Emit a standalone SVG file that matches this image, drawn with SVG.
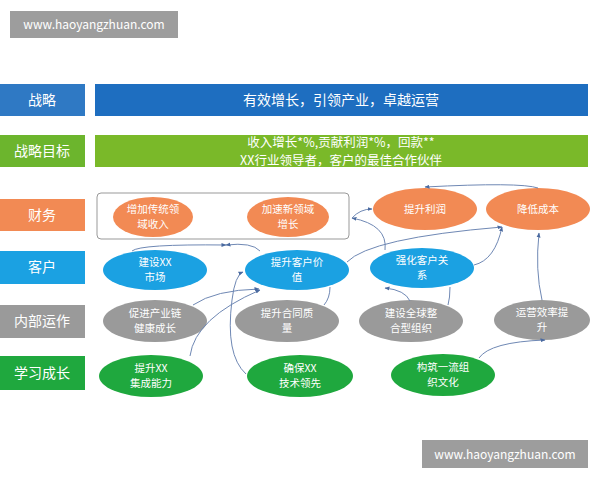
<svg xmlns="http://www.w3.org/2000/svg" width="600" height="480" viewBox="0 0 600 480">
<defs>
<marker id="a" viewBox="0 0 10 10" refX="9" refY="5" markerWidth="5" markerHeight="5" orient="auto"><path d="M0,1 L10,5 L0,9 z" fill="#4a6aa0"/></marker>
<style>
text{font-family:"Noto Sans CJK SC","Liberation Sans",sans-serif;fill:#fff;text-anchor:middle}
.lb{font-size:14px}
.lb2{font-size:12.5px}
.n{font-size:10.5px}
.c{fill:none;stroke:#6f88b4;stroke-width:1;marker-end:url(#a)}
.c2{fill:none;stroke:#6f88b4;stroke-width:1}
.or{fill:#f28a54}.bl{fill:#1ba1e2}.gr{fill:#9a9a9a}.gn{fill:#1fa83e}
</style>
</defs>
<rect width="600" height="480" fill="#fff"/>
<g id="wm1"><rect x="10" y="11" width="168" height="27" fill="#8c8c8c" opacity="0.85"/><text x="94" y="29" font-size="12">www.haoyangzhuan.com</text></g>
<g id="labels">
<rect x="0" y="84" width="85" height="32" fill="#2f79c4"/><text class="lb" x="42" y="105">战略</text>
<rect x="0" y="135" width="85" height="32" fill="#6cb52d"/><text class="lb" x="42" y="156">战略目标</text>
<rect x="0" y="199" width="85" height="32" fill="#f28a54"/><text class="lb" x="42" y="220">财务</text>
<rect x="0" y="251" width="85" height="33" fill="#1ba1e2"/><text class="lb" x="42" y="272">客户</text>
<rect x="0" y="305" width="85" height="33" fill="#9a9a9a"/><text class="lb" x="42" y="326">内部运作</text>
<rect x="0" y="356" width="85" height="34" fill="#1fa83e"/><text class="lb" x="42" y="378">学习成长</text>
</g>
<g id="bars">
<rect x="95" y="84" width="493" height="32" fill="#1e6ec0"/><text class="lb" x="341" y="105">有效增长，引领产业，卓越运营</text>
<rect x="95" y="135" width="493" height="32" fill="#7ab929"/><text class="lb2" x="341" y="147">收入增长*%,贡献利润*%，回款**</text><text class="lb2" x="341" y="165">XX行业领导者，客户的最佳合作伙伴</text>
</g>
<g id="box"><rect x="97" y="193" width="252" height="46" rx="4" fill="none" stroke="#999"/></g>
<g id="n1"><ellipse class="or" cx="153" cy="217" rx="40" ry="20"/><text class="n" x="153" y="213">增加传统领</text><text class="n" x="153" y="228">域收入</text></g>
<g id="n2"><ellipse class="or" cx="288" cy="217" rx="41" ry="20"/><text class="n" x="288" y="213">加速新领域</text><text class="n" x="288" y="228">增长</text></g>
<g id="n3"><ellipse class="or" cx="425" cy="209" rx="52" ry="21"/><text class="n" x="425" y="213">提升利润</text></g>
<g id="n4"><ellipse class="or" cx="538" cy="209" rx="52" ry="21"/><text class="n" x="538" y="213">降低成本</text></g>
<g id="n5"><ellipse class="bl" cx="155" cy="270" rx="52" ry="20"/><text class="n" x="155" y="266">建设XX</text><text class="n" x="155" y="281">市场</text></g>
<g id="n6"><ellipse class="bl" cx="297" cy="270" rx="52" ry="20"/><text class="n" x="297" y="266">提升客户价</text><text class="n" x="297" y="281">值</text></g>
<g id="n7"><ellipse class="bl" cx="422" cy="268" rx="52" ry="20"/><text class="n" x="422" y="264">强化客户关</text><text class="n" x="422" y="279">系</text></g>
<g id="n8"><ellipse class="gr" cx="155" cy="321" rx="52" ry="21"/><text class="n" x="155" y="317">促进产业链</text><text class="n" x="155" y="332">健康成长</text></g>
<g id="n9"><ellipse class="gr" cx="287" cy="321" rx="52" ry="21"/><text class="n" x="287" y="317">提升合同质</text><text class="n" x="287" y="332">量</text></g>
<g id="n10"><ellipse class="gr" cx="411" cy="321" rx="52" ry="21"/><text class="n" x="411" y="317">建设全球整</text><text class="n" x="411" y="332">合型组织</text></g>
<g id="n11"><ellipse class="gr" cx="542" cy="320" rx="48" ry="20"/><text class="n" x="542" y="316">运营效率提</text><text class="n" x="542" y="331">升</text></g>
<g id="n12"><ellipse class="gn" cx="151" cy="376" rx="52" ry="21"/><text class="n" x="151" y="372">提升XX</text><text class="n" x="151" y="387">集成能力</text></g>
<g id="n13"><ellipse class="gn" cx="300" cy="376" rx="53" ry="21"/><text class="n" x="300" y="372">确保XX</text><text class="n" x="300" y="387">技术领先</text></g>
<g id="n14"><ellipse class="gn" cx="443" cy="375" rx="52" ry="21"/><text class="n" x="443" y="371">构筑一流组</text><text class="n" x="443" y="386">织文化</text></g>
<g id="connectors">
<path class="c" d="M132,251 Q140,244 226,245"/>
<path class="c" d="M260,251 Q252,242 226,245"/>
<path class="c" d="M347,262 Q370,238 502,227"/>
<path class="c" d="M385,250 Q388,225 352,218"/>
<path class="c" d="M352,218 Q360,209 372,209"/>
<path class="c" d="M538,188 Q520,182 425,187"/>
<path class="c" d="M474,265 Q495,260 502,227"/>
<path class="c" d="M542,300 Q535,270 539,233"/>
<path class="c" d="M193,305 Q215,290 259,289"/>
<path class="c" d="M190,356 Q195,318 260,290"/>
<path class="c" d="M246,374 Q225,355 232,300 Q235,275 243,272"/>
<path class="c2" d="M324,305 Q330,298 330,287"/>
<path class="c" d="M410,301 Q405,290 385,288"/>
<path class="c2" d="M448,305 Q450,298 450,287"/>
<path class="c" d="M479,358 Q490,342 545,340"/>
</g>
<g id="wm2"><rect x="422" y="440" width="166" height="28" fill="#8c8c8c" opacity="0.85"/><text x="505" y="459" font-size="12">www.haoyangzhuan.com</text></g>
</svg>
